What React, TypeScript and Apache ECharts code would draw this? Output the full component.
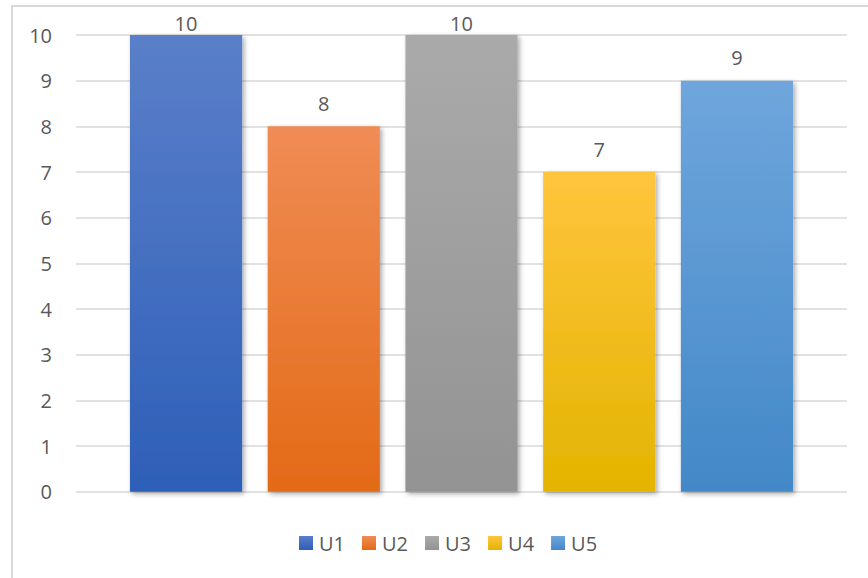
import React, { useEffect, useRef } from "react";
import * as echarts from "echarts";

const seriesNames = ["U1", "U2", "U3", "U4", "U5"];
const seriesValues = [10, 8, 10, 7, 9];
const categories = [""];
const yTicks = { min: 0, max: 10, interval: 1 };
const topColors = ["#5a7fc9", "#f08c55", "#aaaaaa", "#ffc53e", "#6fa6dc"];
const bottomColors = ["#2e5fb8", "#e36a17", "#939393", "#e3b400", "#4388c8"];

const FONT = "'Open Sans', 'Noto Sans', sans-serif";
const TXT = "#595959";

export default function App() {
  const ref = useRef<HTMLDivElement>(null);
  useEffect(() => {
    document.body.style.margin = "0";
    const chart = echarts.init(ref.current!, null, { renderer: "svg" });
    chart.setOption({
      animation: false,
      backgroundColor: "#ffffff",
      textStyle: { fontFamily: FONT },
      graphic: [
        {
          type: "rect",
          shape: { x: 12, y: 6, width: 1000, height: 800 },
          style: { fill: "none", stroke: "#d9d9d9", lineWidth: 2 },
          silent: true,
          z: -1,
        },
      ],
      grid: { left: 76, right: 21, top: 35, bottom: 86.3, containLabel: false },
      legend: {
        data: seriesNames,
        left: 299,
        top: 533,
        padding: 0,
        itemWidth: 14,
        itemHeight: 14,
        itemGap: 17,
        icon: "rect",
        textStyle: { color: TXT, fontSize: 20, fontFamily: FONT, padding: [0, 0, 0, 1] },
      },
      xAxis: {
        type: "category",
        data: categories,
        axisLine: { show: false },
        axisTick: { show: false },
        axisLabel: { show: false },
      },
      yAxis: {
        type: "value",
        min: yTicks.min,
        max: yTicks.max,
        interval: yTicks.interval,
        axisLine: { show: false },
        axisTick: { show: false },
        axisLabel: { color: TXT, fontSize: 20, fontFamily: FONT, margin: 24 },
        splitLine: { lineStyle: { color: "#d9d9d9", width: 1.5 } },
      },
      series: seriesNames.map((name, i) => ({
        type: "bar",
        name,
        data: [
          {
            value: seriesValues[i],
            label: { distance: seriesValues[i] >= yTicks.max ? 2 : 13 },
          },
        ],
        barGap: "22.8%",
        barCategoryGap: "14%",
        itemStyle: {
          color: new echarts.graphic.LinearGradient(0, 0, 0, 1, [
            { offset: 0, color: topColors[i] },
            { offset: 1, color: bottomColors[i] },
          ]),
          shadowColor: "rgba(0,0,0,0.35)",
          shadowBlur: 5,
          shadowOffsetX: 2,
          shadowOffsetY: 2,
        },
        label: {
          show: true,
          position: "top",
          color: TXT,
          fontSize: 20,
          fontFamily: FONT,
        },
      })),
    });
    return () => chart.dispose();
  }, []);
  return <div ref={ref} style={{ width: 868, height: 578 }} />;
}
